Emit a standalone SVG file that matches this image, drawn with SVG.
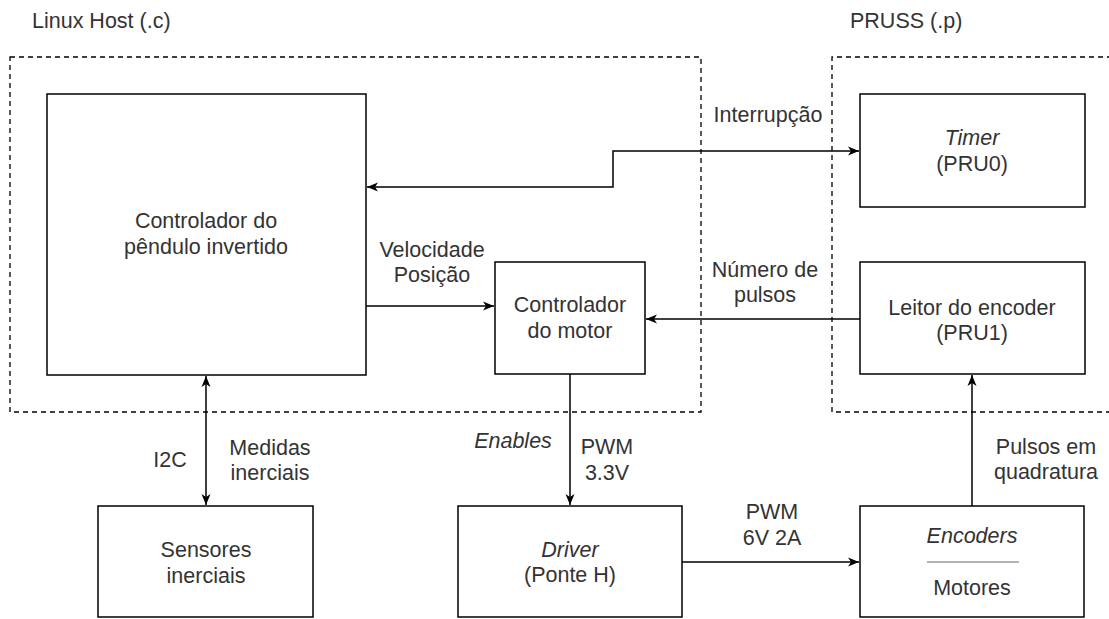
<svg xmlns="http://www.w3.org/2000/svg" width="1109" height="619" viewBox="0 0 1109 619">
<defs>
<marker id="arr" markerUnits="userSpaceOnUse" markerWidth="12" markerHeight="10" refX="11" refY="5" orient="auto-start-reverse">
<path d="M0,0.5 L11,5 L0,9.5 L3,5 Z" fill="#000"/>
</marker>
<style>
.box{fill:#fff;stroke:#000;stroke-width:1.5}
.grp{fill:none;stroke:#000;stroke-width:1.3;stroke-dasharray:5 4}
.t{font-family:"Liberation Sans",Arial,sans-serif;font-size:21.5px;fill:#333;text-anchor:middle}
.i{font-style:italic}
.ln{fill:none;stroke:#000;stroke-width:1.5}
</style>
</defs>
<rect width="1109" height="619" fill="#fff"/>
<g id="groups">
<rect class="grp" x="10" y="57" width="691" height="355"/>
<path class="grp" d="M1112,57 H832 V412 H1112"/>
<text class="t" x="32" y="28" style="text-anchor:start">Linux Host (.c)</text>
<text class="t" x="850" y="28" style="text-anchor:start">PRUSS (.p)</text>
</g>
<g id="connectors">
<path class="ln" d="M367,187 H613 V151 H859" marker-start="url(#arr)" marker-end="url(#arr)"/>
<path class="ln" d="M366,306 H494" marker-end="url(#arr)"/>
<path class="ln" d="M860,319 H646" marker-end="url(#arr)"/>
<path class="ln" d="M570,374 V505" marker-end="url(#arr)"/>
<path class="ln" d="M682,562 H859" marker-end="url(#arr)"/>
<path class="ln" d="M972,506 V375" marker-end="url(#arr)"/>
<path class="ln" d="M206,376 V505" marker-start="url(#arr)" marker-end="url(#arr)"/>
<text class="t" x="768" y="122">Interrupção</text>
<text class="t" x="432" y="257">Velocidade</text>
<text class="t" x="432" y="282">Posição</text>
<text class="t" x="765" y="277">Número de</text>
<text class="t" x="765" y="302">pulsos</text>
<text class="t i" x="513" y="448">Enables</text>
<text class="t" x="607" y="454">PWM</text>
<text class="t" x="607" y="480">3.3V</text>
<text class="t" x="772" y="519">PWM</text>
<text class="t" x="772" y="545">6V 2A</text>
<text class="t" x="170" y="467">I2C</text>
<text class="t" x="270" y="455">Medidas</text>
<text class="t" x="270" y="480">inerciais</text>
<text class="t" x="1046" y="454">Pulsos em</text>
<text class="t" x="1046" y="479">quadratura</text>
</g>
<g id="pendulo">
<rect class="box" x="47" y="94" width="319" height="281"/>
<text class="t" x="206" y="228">Controlador do</text>
<text class="t" x="206" y="254">pêndulo invertido</text>
</g>
<g id="timer">
<rect class="box" x="860" y="94" width="225" height="113"/>
<text class="t i" x="972" y="145">Timer</text>
<text class="t" x="972" y="171">(PRU0)</text>
</g>
<g id="motor">
<rect class="box" x="495" y="262" width="150" height="112"/>
<text class="t" x="570" y="312">Controlador</text>
<text class="t" x="570" y="338">do motor</text>
</g>
<g id="leitor">
<rect class="box" x="860" y="262" width="225" height="112"/>
<text class="t" x="972" y="315">Leitor do encoder</text>
<text class="t" x="972" y="340">(PRU1)</text>
</g>
<g id="sensores">
<rect class="box" x="98" y="506" width="215" height="111"/>
<text class="t" x="206" y="557">Sensores</text>
<text class="t" x="206" y="583">inerciais</text>
</g>
<g id="driver">
<rect class="box" x="458" y="506" width="224" height="111"/>
<text class="t i" x="570" y="557">Driver</text>
<text class="t" x="570" y="582">(Ponte H)</text>
</g>
<g id="encoders">
<rect class="box" x="860" y="506" width="224" height="111"/>
<text class="t i" x="972" y="543">Encoders</text>
<line x1="927" y1="562" x2="1019" y2="562" stroke="#999" stroke-width="1.5"/>
<text class="t" x="972" y="595">Motores</text>
</g>
</svg>
